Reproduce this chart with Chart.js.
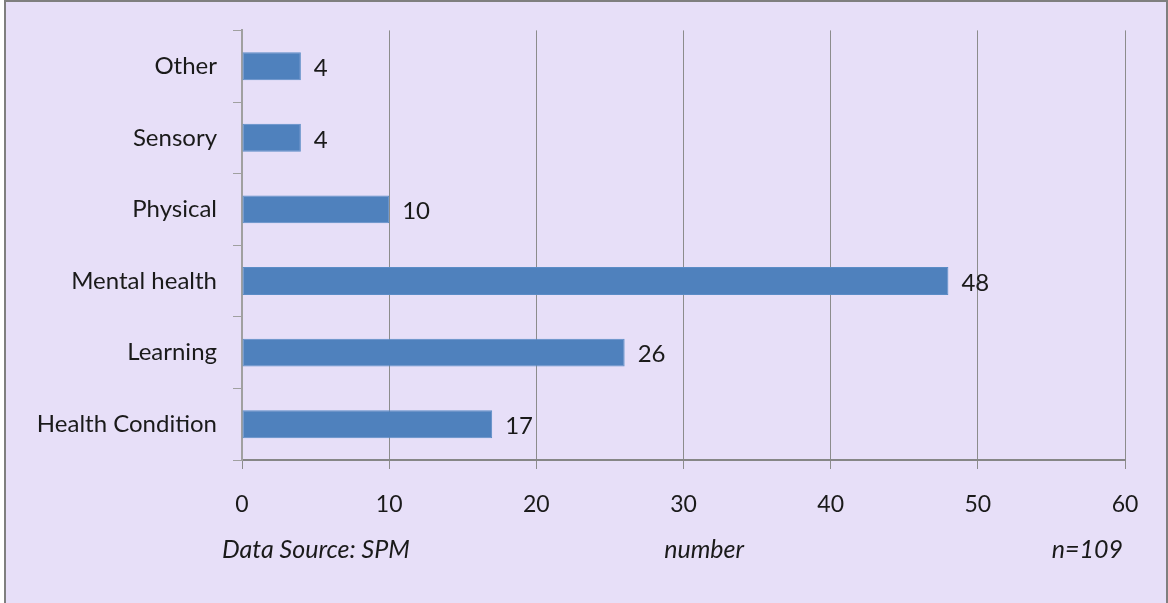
<!DOCTYPE html>
<html>
<head>
<meta charset="utf-8">
<script src="https://cdn.jsdelivr.net/npm/chart.js@4"></script>
<style>
  html, body { margin: 0; padding: 0; background: #fff; }
  #wrap { width: 1168px; height: 603px; position: relative; }
</style>
</head>
<body>
<div id="wrap"><canvas id="chart" width="1168" height="603"></canvas></div>
<script>
Chart.defaults.font.family = 'Lato, "Open Sans", sans-serif';

// categories top to bottom, as drawn
const categories = ["Other", "Sensory", "Physical", "Mental health", "Learning", "Health Condition"];
const counts = [4, 4, 10, 48, 26, 17];
const xTicks = [0, 10, 20, 30, 40, 50, 60];

const sourceNote = "Data Source: SPM";
const axisTitle = "number";
const sampleNote = "n=109";

const bgPlugin = {
  id: "bg",
  beforeDraw(chart) {
    const ctx = chart.ctx;
    ctx.save();
    ctx.fillStyle = "#E7DFF8";
    ctx.fillRect(5, 1, chart.width - 6, chart.height - 1);
    ctx.strokeStyle = "#7F7F7F";
    ctx.lineWidth = 2;
    ctx.beginPath();
    ctx.moveTo(5, chart.height);
    ctx.lineTo(5, 1);
    ctx.lineTo(chart.width - 1, 1);
    ctx.lineTo(chart.width - 1, chart.height);
    ctx.stroke();
    ctx.restore();
  }
};

const labelPlugin = {
  id: "labels",
  afterDatasetsDraw(chart) {
    const ctx = chart.ctx;
    const meta = chart.getDatasetMeta(0);
    ctx.save();
    ctx.font = '24px Lato, "Open Sans", sans-serif';
    ctx.fillStyle = "#1a1a1a";
    ctx.textAlign = "left";
    ctx.textBaseline = "middle";
    meta.data.forEach((bar, i) => {
      ctx.fillText(String(counts[i]), bar.x + 13, bar.y + 2);
    });

    // notes under the x axis
    const xs = chart.scales.x;
    const y = 550;
    ctx.font = 'italic 25px Lato, "Open Sans", sans-serif';
    ctx.textAlign = "left";
    ctx.fillText(sourceNote, xs.left - 20, y);
    ctx.textAlign = "center";
    ctx.fillText(axisTitle, xs.getPixelForValue(31.4), y);
    ctx.textAlign = "right";
    ctx.fillText(sampleNote, xs.right - 2, y);
    ctx.restore();
  }
};

new Chart(document.getElementById("chart"), {
  type: "bar",
  data: {
    labels: categories,
    datasets: [{
      data: counts,
      backgroundColor: "#4F81BD",
      borderColor: "#5B8CC6",
      borderWidth: 1,
      borderSkipped: false,
      barPercentage: 0.39,
      categoryPercentage: 1
    }]
  },
  options: {
    indexAxis: "y",
    responsive: false,
    animation: false,
    layout: { padding: { top: 30, right: 43, left: 0, bottom: 0 } },
    plugins: {
      legend: { display: false },
      tooltip: { enabled: false }
    },
    scales: {
      x: {
        min: 0,
        max: 60,
        afterBuildTicks(axis) {
          axis.ticks = xTicks.map(v => ({ value: v }));
        },
        afterFit(axis) { axis.height = 143; },
        grid: {
          color: "#8C8C8C",
          lineWidth: 1,
          tickLength: 9,
          drawTicks: true
        },
        border: { color: "#868686", width: 2 },
        ticks: {
          color: "#1a1a1a",
          font: { size: 23 },
          padding: 22
        }
      },
      y: {
        afterFit(axis) { axis.width = 242; },
        grid: {
          offset: true,
          drawOnChartArea: false,
          tickLength: 9,
          color: "#A0A0A0"
        },
        border: { color: "#A0A0A0", width: 2 },
        ticks: {
          color: "#1a1a1a",
          font: { size: 24 },
          padding: 16
        }
      }
    }
  },
  plugins: [bgPlugin, labelPlugin]
});
</script>
</body>
</html>
